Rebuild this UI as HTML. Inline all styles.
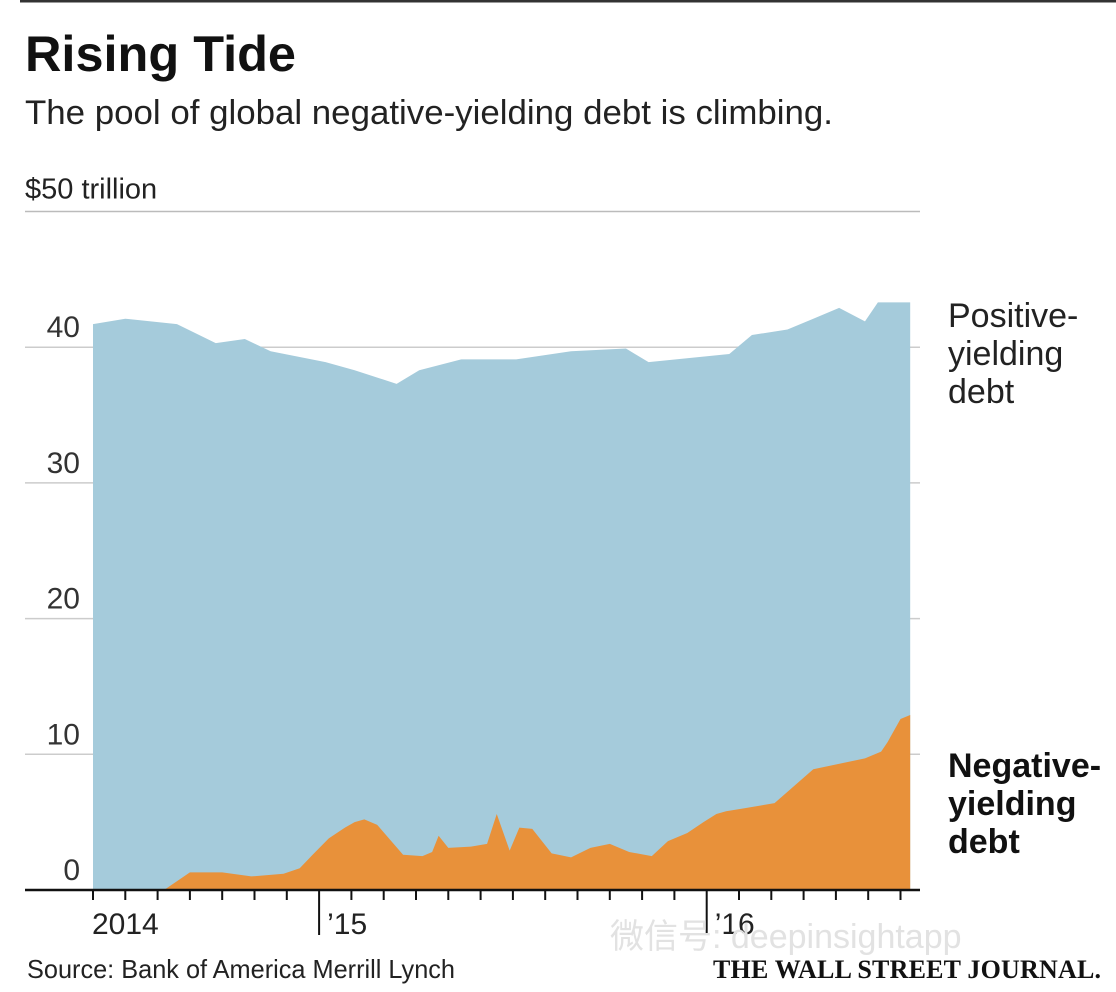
<!DOCTYPE html>
<html><head><meta charset="utf-8">
<style>
body{margin:0;background:#fff;width:1116px;height:992px;overflow:hidden;font-family:"Liberation Sans","Noto Sans CJK SC",sans-serif;}
svg{display:block}
</style></head>
<body>
<svg id="chart" width="1116" height="992" xmlns="http://www.w3.org/2000/svg">
<line x1="20" y1="1" x2="1116" y2="1" stroke="#333" stroke-width="3"/>
<text x="25" y="71" font-size="50" font-weight="bold" fill="#111" font-family="Liberation Sans, sans-serif" textLength="271" lengthAdjust="spacingAndGlyphs">Rising Tide</text>
<text x="25" y="124" font-size="34" fill="#222" font-family="Liberation Sans, sans-serif" textLength="808" lengthAdjust="spacingAndGlyphs">The pool of global negative-yielding debt is climbing.</text>
<g id="grid"></g>
<g id="areas"></g>
<g id="axis"></g>
<text font-size="34" fill="#222" font-family="Liberation Sans, sans-serif"><tspan x="948" y="327">Positive-</tspan><tspan x="948" y="365">yielding</tspan><tspan x="948" y="403">debt</tspan></text>
<text font-size="34" font-weight="bold" fill="#111" font-family="Liberation Sans, sans-serif"><tspan x="948" y="777">Negative-</tspan><tspan x="948" y="815">yielding</tspan><tspan x="948" y="853">debt</tspan></text>
<text x="610" y="948" font-size="34" fill="#e2e2e2" font-family="Liberation Sans, Noto Sans CJK SC, sans-serif">微信号: deepinsightapp</text>
<text x="27" y="978" font-size="26" fill="#222" font-family="Liberation Sans, sans-serif" textLength="428" lengthAdjust="spacingAndGlyphs">Source: Bank of America Merrill Lynch</text>
<text x="713" y="978" font-size="26" font-weight="bold" fill="#111" font-family="Liberation Serif, serif" textLength="388">THE WALL STREET JOURNAL.</text>
</svg>
<script>
// month index: 0 = Jun 2014
const totalMonths = [0,1,2.6,3.8,4.7,5.5,7.2,8.1,9.4,10.1,11.4,13.1,14.8,16.5,17.2,19.7,20.4,21.5,22.3,23.1,23.9,24.3,25.3];
const totalValues = [41.7,42.1,41.7,40.3,40.6,39.7,38.9,38.3,37.3,38.3,39.1,39.1,39.7,39.9,38.9,39.5,40.9,41.3,42.1,42.9,41.9,43.3,43.3];
const negMonths = [0,2.2,3.0,4.0,4.9,5.9,6.4,6.8,7.3,7.8,8.1,8.4,8.8,9.6,10.2,10.5,10.7,11.0,11.7,12.2,12.5,12.9,13.2,13.6,14.2,14.8,15.4,16.0,16.6,17.3,17.8,18.4,18.9,19.3,19.6,20.1,21.1,22.3,23.9,24.4,24.6,25.0,25.3];
const negValues = [0,0,1.3,1.3,1.0,1.2,1.6,2.6,3.8,4.6,5.0,5.2,4.8,2.6,2.5,2.8,4.0,3.1,3.2,3.4,5.6,2.9,4.6,4.5,2.7,2.4,3.1,3.4,2.8,2.5,3.6,4.2,5.0,5.6,5.8,6.0,6.4,8.9,9.7,10.2,10.9,12.6,12.9];
const yTicks = [0,10,20,30,40];
const xTickLabels = ["2014","’15","’16"];
const xTickLabelMonths = [0,7,19];
const NS="http://www.w3.org/2000/svg";
const X=m=>93+m*32.3;
const Y=v=>890-v*13.57;
const grid=document.getElementById('grid'),areas=document.getElementById('areas'),axis=document.getElementById('axis');
function mk(tag,attrs,parent){const e=document.createElementNS(NS,tag);for(const k in attrs)e.setAttribute(k,attrs[k]);parent.appendChild(e);return e;}
let gl=mk('line',{x1:25,x2:920,y1:Y(50),y2:Y(50),stroke:'#bbb','stroke-width':1.5},grid);


let t50=mk('text',{x:25,y:Y(50)-13,'font-size':29,fill:'#222'},grid);t50.textContent='$50 trillion';


yTicks.forEach(v=>{
 if(v>0){const l=mk('line',{x1:25,x2:920,y1:Y(v),y2:Y(v),stroke:'#ccc','stroke-width':1.5},grid);
 
 }
 const t=mk('text',{x:80,y:Y(v)-10,'font-size':30,fill:'#333','text-anchor':'end'},grid);t.textContent=v;
 
 
});
let d='M'+X(totalMonths[0])+','+Y(0);
totalMonths.forEach((m,i)=>d+=' L'+X(m)+','+Y(totalValues[i]));
d+=' L'+X(totalMonths[totalMonths.length-1])+','+Y(0)+' Z';
const pa=mk('path',{d:d,fill:'#a5cbdb'},areas);


let d2='M'+X(negMonths[0])+','+Y(0);
negMonths.forEach((m,i)=>d2+=' L'+X(m)+','+Y(negValues[i]));
d2+=' L'+X(negMonths[negMonths.length-1])+','+Y(0)+' Z';
const na=mk('path',{d:d2,fill:'#e8913a'},areas);


const ax=mk('line',{x1:25,x2:920,y1:890,y2:890,stroke:'#111','stroke-width':2.5},axis);


for(let m=0;m<=25;m++){
 const big=xTickLabelMonths.indexOf(m)>0;
 const tk=mk('line',{x1:X(m),x2:X(m),y1:890,y2:big?935:900,stroke:'#111','stroke-width':2},axis);
 
 
}
xTickLabels.forEach((s,i)=>{
 const t=mk('text',{x:X(xTickLabelMonths[i])+(i==0?-1:8),y:934,'font-size':30,fill:'#222'},axis);t.textContent=s;
 
 
});
</script>
</body></html>
